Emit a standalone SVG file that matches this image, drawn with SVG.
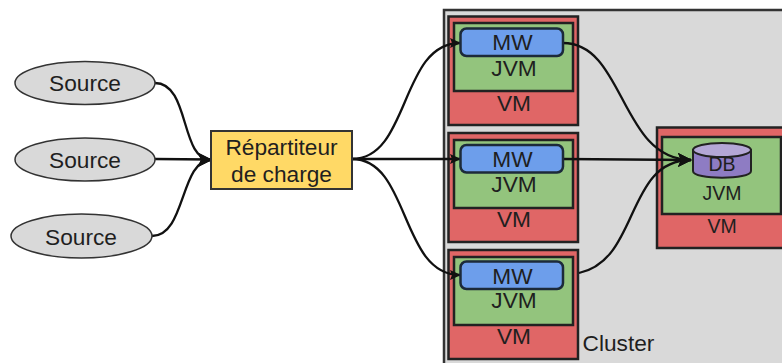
<svg xmlns="http://www.w3.org/2000/svg" width="782" height="363" viewBox="0 0 782 363">
<defs>
<marker id="arr" markerWidth="11" markerHeight="10" refX="10" refY="5" orient="auto" markerUnits="userSpaceOnUse" viewBox="0 0 11 10"><path d="M0 0L11 5L0 10L2 5Z" fill="#111"/></marker>
<marker id="arrb" markerWidth="14" markerHeight="14" refX="13" refY="7" orient="auto" markerUnits="userSpaceOnUse" viewBox="0 0 14 14"><path d="M0 0L14 7L0 14L3 7Z" fill="#111"/></marker>
</defs>
<style>
text{font-family:"Liberation Sans",Arial,sans-serif;fill:#1f1f1f;text-anchor:middle}
.t{font-size:22.700px}
.s{font-size:19.500px}
.src{fill:#d9d9d9;stroke:#333;stroke-width:1.500}
.cl{fill:#d9d9d9;stroke:#333;stroke-width:2.500}
.vm{fill:#e06666;stroke:#222;stroke-width:2.500}
.jvm{fill:#93c47d;stroke:#222;stroke-width:2.500}
.mw{fill:#6d9eeb;stroke:#1c2a3a;stroke-width:2.500}
.lb{fill:#ffd966;stroke:#333;stroke-width:2}
.db{fill:#8e7cc3;stroke:#222;stroke-width:2}
.dbt{fill:#b4a7d6;stroke:#222;stroke-width:2}
.c{fill:none;stroke:#111;stroke-width:2.300}
</style>
<g id="cluster"><rect class="cl" x="444" y="10" width="345" height="365"/><text class="t" x="618.500" y="351">Cluster</text></g>
<g id="vm1"><rect class="vm" x="448.500" y="16.500" width="129.500" height="108.500"/><rect class="jvm" x="454" y="23" width="119" height="68"/><text class="t" x="514" y="76">JVM</text><text class="t" x="514" y="111">VM</text></g>
<g id="vm2"><rect class="vm" x="448.500" y="133" width="129.500" height="109"/><rect class="jvm" x="454" y="140" width="119" height="68"/><text class="t" x="514" y="192">JVM</text><text class="t" x="514" y="227">VM</text></g>
<g id="vm3"><rect class="vm" x="448.500" y="250" width="129.500" height="109"/><rect class="jvm" x="454" y="257" width="119" height="68"/><text class="t" x="514" y="308">JVM</text><text class="t" x="514" y="344">VM</text></g>
<g id="vmdb"><rect class="vm" x="657" y="127.500" width="135" height="120.500"/><rect class="jvm" x="662" y="137" width="119" height="77"/><text class="s" x="722" y="200">JVM</text><text class="s" x="722" y="233">VM</text></g>
<g id="connectors">
<path class="c" d="M155 83C190 83 180 160 211 160" marker-end="url(#arrb)"/>
<path class="c" d="M155 159L211 159.500" marker-end="url(#arrb)"/>
<path class="c" d="M152 236C186 236 180 160 211 160" marker-end="url(#arrb)"/>
<path class="c" d="M352 159C410 159 400 43 460 43" marker-end="url(#arr)"/>
<path class="c" d="M352 159L460 159" marker-end="url(#arr)"/>
<path class="c" d="M352 159C410 159 400 275 460 275" marker-end="url(#arr)"/>
<path class="c" d="M563 43C625 43 620 160 691 160" marker-end="url(#arrb)"/>
<path class="c" d="M563 159L691 160" marker-end="url(#arrb)"/>
<path class="c" d="M579 273C640 260 625 160 691 160" marker-end="url(#arrb)"/>
</g>
<g id="source1"><ellipse class="src" cx="85" cy="83" rx="70" ry="21.500"/><text class="t" x="85" y="91">Source</text></g>
<g id="source2"><ellipse class="src" cx="85" cy="159.500" rx="70" ry="21.500"/><text class="t" x="85" y="168">Source</text></g>
<g id="source3"><ellipse class="src" cx="81.500" cy="236" rx="70.500" ry="22"/><text class="t" x="81" y="245">Source</text></g>
<g id="lb"><rect class="lb" x="211" y="131" width="141" height="58"/><text class="t" x="281.500" y="155">Répartiteur</text><text class="t" x="281.500" y="182">de charge</text></g>
<g id="mw1"><rect class="mw" x="460.500" y="28.500" width="102.500" height="27.500" rx="6"/><text class="t" x="512.500" y="50">MW</text></g>
<g id="mw2"><rect class="mw" x="460.500" y="145" width="102.500" height="27.500" rx="6"/><text class="t" x="512.500" y="167">MW</text></g>
<g id="mw3"><rect class="mw" x="460.500" y="261.500" width="102.500" height="27.500" rx="6"/><text class="t" x="512.500" y="284">MW</text></g>
<g id="db"><path class="db" d="M693 150V171C693 180 751 180 751 171V150Z"/><ellipse class="dbt" cx="722" cy="150" rx="29" ry="7"/><text class="s" x="722" y="171">DB</text></g>
</svg>
